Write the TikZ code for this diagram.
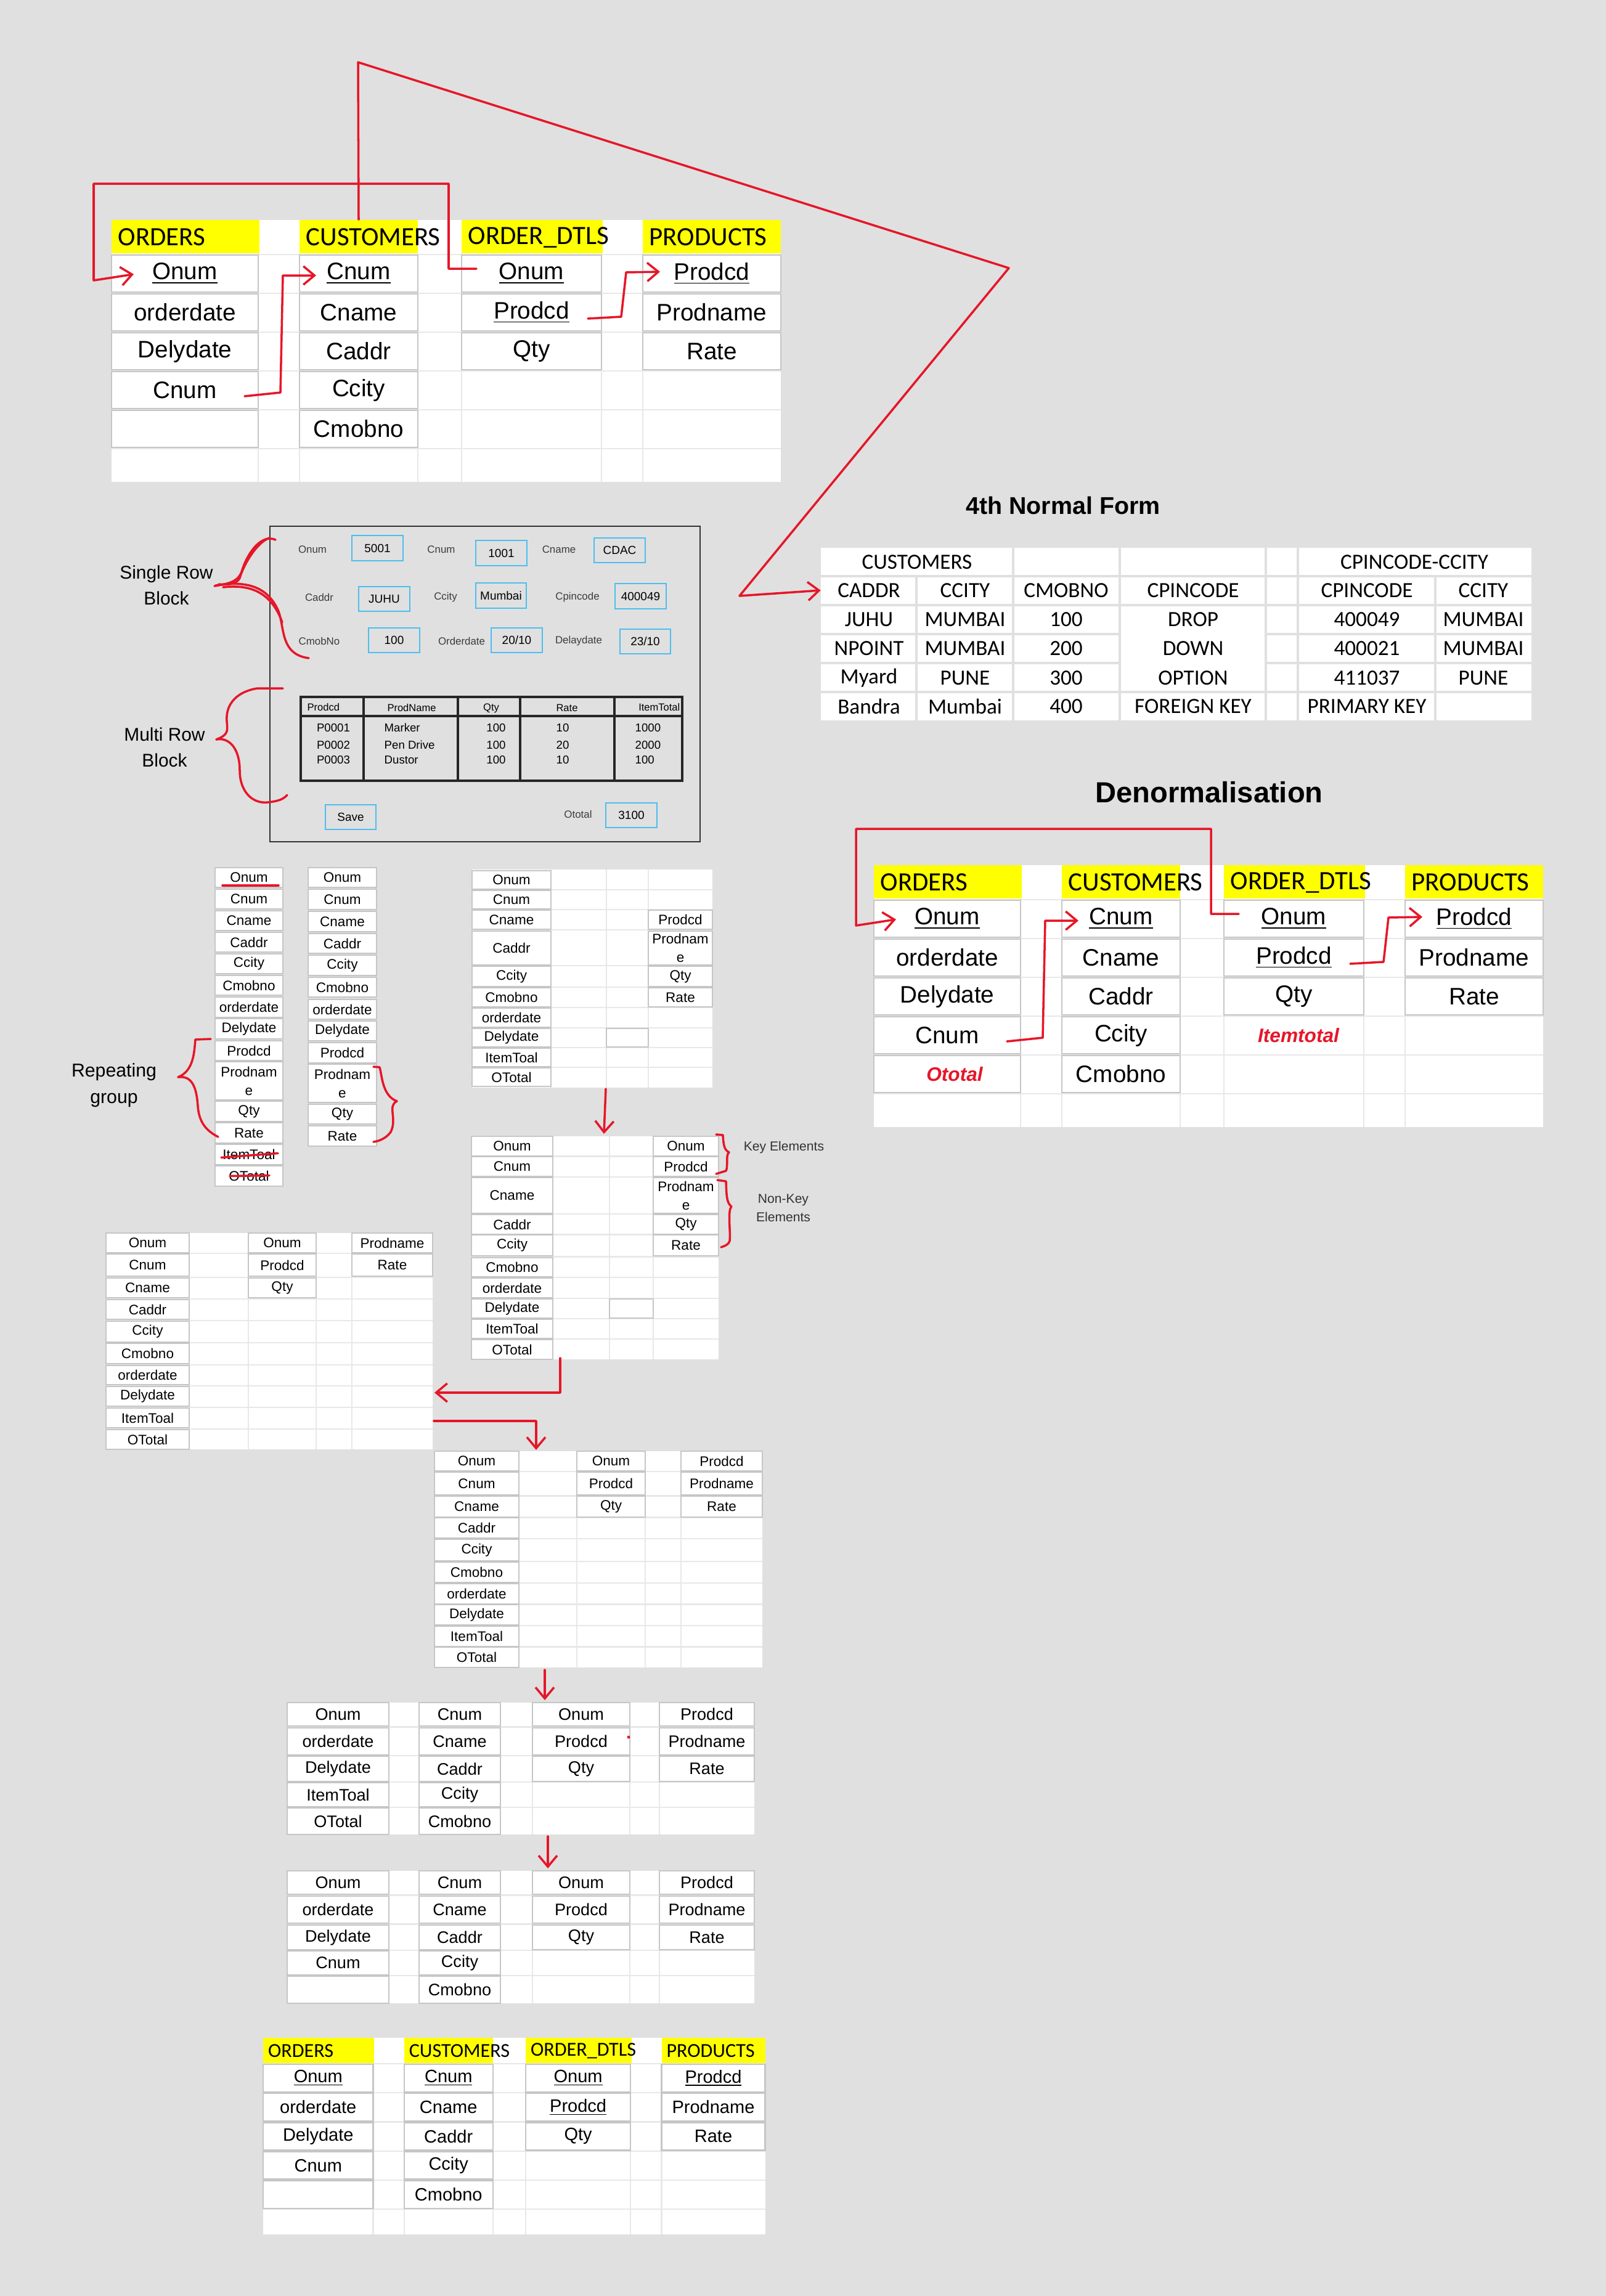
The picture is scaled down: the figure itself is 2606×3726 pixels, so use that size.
\documentclass[tikz,border=0pt]{standalone}
\usepackage{fontspec}
\setmainfont{Liberation Sans}
\newfontfamily\calfont{Carlito}
\usetikzlibrary{arrows.meta,positioning}

\definecolor{pagebg}{RGB}{224,224,224}
\definecolor{boxline}{RGB}{198,198,198}
\definecolor{gridgrey}{RGB}{232,232,232}
\definecolor{penred}{RGB}{230,22,40}
\definecolor{hiyellow}{RGB}{255,255,0}
\definecolor{fieldblue}{RGB}{77,190,238}
\definecolor{formtext}{RGB}{60,60,60}
\definecolor{formline}{RGB}{50,50,50}

% boxed cell: name, x1, y1, x2, y2, text
\newcommand{\bcell}[6]{\node[cellbox, minimum width={((#4)-(#2))*0.01cm}, minimum height={((#5)-(#3))*0.01cm}] (#1) at ({((#2)+(#4))/2},{((#3)+(#5))/2}) {#6};}
% white sheet with light grid: name, x1, y1, x2, y2, x lines, y lines
\newcommand{\sheet}[7]{%
  \node[sheetbox, minimum width={((#4)-(#2))*0.01cm}, minimum height={((#5)-(#3))*0.01cm}] (#1) at ({((#2)+(#4))/2},{((#3)+(#5))/2}) {};
  \foreach \gx in {#6} \draw[gridline] (\gx,#3) -- (\gx,#5);
  \foreach \gy in {#7} \draw[gridline] (#2,\gy) -- (#4,\gy);}
% form field: name, label x, label y, label, box x1, y1, x2, y2, value
\newcommand{\field}[9]{%
  \node[flabel] (#1-lbl) at (#2,#3) {#4};
  \node[fbox, minimum width={((#7)-(#5))*0.01cm}, minimum height={((#8)-(#6))*0.01cm}] (#1) at ({((#5)+(#7))/2},{((#6)+(#8))/2}) {#9};}
% the four tables ORDERS / CUSTOMERS / ORDER_DTLS / PRODUCTS
\newcommand{\schema}[1]{%
  \fill[white] (0,0) rectangle (1086,425);
  \foreach \gx in {238,305,497,568,795,862} \draw[gridline] (\gx,54) -- (\gx,425);
  \foreach \gy in {56,119,182,245,308,371} \draw[gridline] (0,\gy) -- (1086,\gy);
  \foreach \hxa/\hwd/\htxt/\hid in {0/240/ORDERS/o, 305/192/CUSTOMERS/c, 568/229/ORDER\_DTLS/d, 862/224/PRODUCTS/p}{%
    \node[hcell, minimum width={\hwd*0.01cm}] (#1-\hid-head) at ({\hxa+\hwd/2},27) {};
    \node[htext] (#1-\hid-text) at ({\hxa+10},28) {\htxt};}
  \foreach \ctext [count=\rr] in {\underline{Onum},orderdate,Delydate,Cnum,{}}
    \bcell{#1-o\rr}{0}{57+63*(\rr-1)}{238}{117+63*(\rr-1)}{\ctext};
  \foreach \ctext [count=\rr] in {\underline{Cnum},Cname,Caddr,Ccity,Cmobno}
    \bcell{#1-c\rr}{305}{57+63*(\rr-1)}{497}{117+63*(\rr-1)}{\ctext};
  \foreach \ctext [count=\rr] in {\underline{Onum},\underline{Prodcd},Qty}
    \bcell{#1-d\rr}{568}{57+63*(\rr-1)}{795}{117+63*(\rr-1)}{\ctext};
  \foreach \ctext [count=\rr] in {\underline{Prodcd},Prodname,Rate}
    \bcell{#1-p\rr}{862}{57+63*(\rr-1)}{1086}{117+63*(\rr-1)}{\ctext};}
\newcommand{\schemalinks}[1]{%
  \draw[redarrow] ([shift={(24,-8)}]#1-d1.west) -- ++(-45,0) -- ++(0,-138) -- ++(-576,0) -- ++(0,157) -- ([shift={(36,1)}]#1-o1.west);
  \draw[redarrow] ([shift={(-22,10)}]#1-o4.east) -- ++(58,-6) -- ++(4,-190) -- ([shift={(27,3)}]#1-c1.west);
  \draw[redarrow] ([shift={(-22,10)}]#1-d2.east) -- ++(54,-3) -- ++(8,-72) -- ([shift={(28,-3)}]#1-p1.west);}

\begin{document}
\begin{tikzpicture}[x=0.01cm, y=-0.01cm,
  cellbox/.style={draw=boxline, fill=white, line width=0.7pt, inner sep=0pt, outer sep=0pt, align=center, font=\fontsize{11}{13}\selectfont},
  hcell/.style={fill=hiyellow, inner sep=0pt, minimum height=0.54cm},
  htext/.style={anchor=west, inner sep=0pt, font=\calfont\fontsize{12.2}{14}\selectfont},
  sheetbox/.style={fill=white, inner sep=0pt, outer sep=0pt},
  gridline/.style={draw=gridgrey, line width=0.6pt},
  nfline/.style={draw=pagebg, line width=0.9pt},
  nftext/.style={inner sep=0pt, font=\calfont\fontsize{10}{12}\selectfont},
  heading/.style={inner sep=0pt, font=\bfseries\fontsize{11.2}{13}\selectfont},
  redline/.style={draw=penred, line width=1pt, line cap=round, line join=round},
  redarrow/.style={redline, -{Straight Barb[length=1.8mm,width=3mm]}},
  redlabel/.style={text=penred, inner sep=0pt, font=\bfseries\itshape\fontsize{9}{11}\selectfont},
  flabel/.style={text=formtext, inner sep=0pt, font=\fontsize{4.8}{6}\selectfont},
  fbox/.style={draw=fieldblue, line width=0.6pt, inner sep=0pt, font=\fontsize{5.4}{6.5}\selectfont},
  fhead/.style={inner sep=0pt, font=\fontsize{4.7}{6}\selectfont},
  fdata/.style={inner sep=0pt, font=\fontsize{5.3}{6.5}\selectfont},
  tabline/.style={draw=black!85, line width=0.9pt},
  annot/.style={align=center, inner sep=0pt, font=\fontsize{8.5}{12}\selectfont}]
\useasboundingbox (0,0) rectangle (2606,3726);
\fill[pagebg] (0,0) rectangle (2606,3726);

% normalised tables at the top
\begin{scope}[shift={(181,357)}]
  \schema{t}
  \schemalinks{t}
\end{scope}

% 4th normal form
\node[heading] (nftitle) at (1725,820) {4th Normal Form};
\node[sheetbox, minimum width=11.53cm, minimum height=2.8cm] (nf) at (1908.5,1029) {};
\foreach \gy in {935,982,1123} \draw[nfline] (1332,\gy) -- (2485,\gy);
\foreach \gy in {1029,1076} \draw[nfline] (1332,\gy) -- (1817,\gy) (2054,\gy) -- (2485,\gy);
\foreach \gx in {1644,1817,2054,2106} \draw[nfline] (\gx,889) -- (\gx,1169);
\foreach \gx in {1487,2329} \draw[nfline] (\gx,935) -- (\gx,1169);
\node[nftext] (nf-cust) at (1488,912) {CUSTOMERS};
\node[nftext] (nf-pin) at (2295,912) {CPINCODE-CCITY};
\foreach \ctext/\cx [count=\rr] in {CADDR/1410, CCITY/1566, CMOBNO/1730, CPINCODE/1936, CPINCODE/2218, CCITY/2407}
  \node[nftext] (nf-b\rr) at (\cx,958) {\ctext};
\foreach \ctext/\cx [count=\rr] in {JUHU/1410, MUMBAI/1566, 100/1730, DROP/1936, 400049/2218, MUMBAI/2407}
  \node[nftext] (nf-c\rr) at (\cx,1005) {\ctext};
\foreach \ctext/\cx [count=\rr] in {NPOINT/1410, MUMBAI/1566, 200/1730, DOWN/1936, 400021/2218, MUMBAI/2407}
  \node[nftext] (nf-d\rr) at (\cx,1052) {\ctext};
\foreach \ctext/\cx [count=\rr] in {Myard/1410, PUNE/1566, 300/1730, OPTION/1936, 411037/2218, PUNE/2407}
  \node[nftext] (nf-e\rr) at (\cx,1100) {\ctext};
\foreach \ctext/\cx [count=\rr] in {Bandra/1410, Mumbai/1566, 400/1730, FOREIGN KEY/1936, PRIMARY KEY/2218}
  \node[nftext] (nf-f\rr) at (\cx,1146) {\ctext};

% link from CUSTOMERS to the 4NF table
\coordinate (kinkA) at (581,101);
\coordinate (kinkB) at (1637,435);
\coordinate (kinkC) at (1200,967);
\draw[redarrow] (t-c-head.north) -- (kinkA) -- (kinkB) -- (kinkC) -- (nf-b1 -| nf.west);

% denormalisation
\node[heading, font=\bfseries\fontsize{13.4}{16}\selectfont] (dntitle) at (1962,1286) {Denormalisation};
\begin{scope}[shift={(1418,1404)}]
  \schema{d}
  \node[redlabel] (d-ototal) at ([shift={(12,0)}]d-o5) {Ototal};
  \node[redlabel] (d-itemtotal) at (689,276) {Itemtotal};
  \schemalinks{d}
\end{scope}

% form
\draw[formline, line width=0.7pt] (438,854) rectangle (1136,1366);
\field{fonum}{507}{892}{Onum}{571}{869}{654}{910}{5001}
\field{fcnum}{716}{892}{Cnum}{772}{877}{855}{918}{1001}
\field{fcname}{907}{892}{Cname}{964}{873}{1047}{913}{CDAC}
\field{fcaddr}{518}{969}{Caddr}{582}{952}{665}{992}{JUHU}
\field{fccity}{723}{969}{Ccity}{772}{946}{854}{987}{Mumbai}
\field{fcpin}{937}{969}{Cpincode}{998}{947}{1081}{988}{400049}
\field{fcmob}{518}{1040}{CmobNo}{598}{1019}{681}{1059}{100}
\field{fodate}{749}{1040}{Orderdate}{797}{1019}{880}{1059}{20/10}
\field{fddate}{939}{1040}{Delaydate}{1006}{1021}{1088}{1061}{23/10}
\field{fototal}{938}{1321}{Ototal}{983}{1303}{1066}{1343}{3100}
\node[fbox, minimum width=0.82cm, minimum height=0.4cm] (fsave) at (569,1326) {Save};
\draw[tabline] (488,1131) rectangle (1107,1267);
\draw[tabline] (488,1162) -- (1107,1162);
\foreach \gx in {590,743,844,997} \draw[tabline] (\gx,1131) -- (\gx,1267);
\node[fhead, anchor=west] (th-prod) at (498,1148) {Prodcd};
\node[fhead] (th-name) at (668,1149) {ProdName};
\node[fhead] (th-qty) at (797,1149) {Qty};
\node[fhead] (th-rate) at (920,1149) {Rate};
\node[fhead, anchor=east] (th-tot) at (1104,1148) {ItemTotal};
\foreach \qa/\qb/\qc/\qd/\qe/\yy [count=\rr] in {P0001/Marker/100/10/1000/1181, P0002/Pen Drive/100/20/2000/1209, P0003/Dustor/100/10/100/1233}{%
  \node[fdata] (tr\rr-prod) at (541,\yy) {\qa};
  \node[fdata, anchor=west] (tr\rr-name) at (623,\yy) {\qb};
  \node[fdata] (tr\rr-qty) at (805,\yy) {\qc};
  \node[fdata] (tr\rr-rate) at (913,\yy) {\qd};
  \node[fdata, anchor=west] (tr\rr-tot) at (1030,\yy) {\qe};}
\node[annot] (singlerow) at (270,950) {Single Row\\Block};
\node[annot] (multirow) at (267,1213) {Multi Row\\Block};
\draw[redline] (447,876) .. controls (425,866) and (402,895) .. (392,928) .. controls (386,944) and (372,947) .. (348,951);
\draw[redline] (437,873) .. controls (418,880) and (397,912) .. (389,938) .. controls (385,947) and (372,950) .. (355,948);
\draw[redline] (350,950) .. controls (395,943) and (433,948) .. (452,992) .. controls (462,1020) and (455,1062) .. (501,1068);
\draw[redline] (362,953) .. controls (405,948) and (440,960) .. (458,1010);
\draw[redline] (459,1117) -- (418,1117) .. controls (385,1122) and (366,1142) .. (368,1170) .. controls (369,1185) and (372,1192) .. (351,1200);
\draw[redline] (351,1200) .. controls (372,1196) and (389,1215) .. (389,1250) .. controls (389,1285) and (410,1305) .. (435,1302) .. controls (452,1300) and (460,1297) .. (466,1290);

% unnormalised columns and the steps after them
\begin{scope}[cellbox/.append style={line width=0.6pt, font=\fontsize{6.4}{8.5}\selectfont}]
  \foreach \ctext/\ya/\yb [count=\rr] in {Onum/1408/1440, Cnum/1443/1475, Cname/1478/1510, Caddr/1513/1545, Ccity/1548/1580, Cmobno/1583/1615, orderdate/1618/1651, Delydate/1653/1686, Prodcd/1689/1721, Prodnam\\e/1723/1785, Qty/1787/1820, Rate/1822/1855, ItemToal/1857/1890, OTotal/1892/1925}
    \bcell{a\rr}{349}{\ya}{459}{\yb}{\ctext};
  \foreach \ctext/\ya/\yb [count=\rr] in {Onum/1408/1440, Cnum/1443/1476, Cname/1479/1512, Caddr/1515/1547, Ccity/1550/1583, Cmobno/1586/1618, orderdate/1622/1654, Delydate/1657/1689, Prodcd/1692/1725, Prodnam\\e/1727/1789, Qty/1792/1824, Rate/1827/1860}
    \bcell{b\rr}{500}{\ya}{611}{\yb}{\ctext};

  \sheet{tabC}{766}{1411}{1156}{1765}{894,984,1052}{1444,1476,1509,1567,1602,1635,1668,1700,1732}
  \foreach \ctext/\ya/\yb [count=\rr] in {Onum/1413/1443, Cnum/1445/1475, Cname/1477/1508, Caddr/1511/1566, Ccity/1568/1601, Cmobno/1603/1634, orderdate/1636/1667, Delydate/1669/1699, ItemToal/1701/1731, OTotal/1733/1763}
    \bcell{c1-\rr}{766}{\ya}{894}{\yb}{\ctext};
  \foreach \ctext/\ya/\yb [count=\rr] in {Prodcd/1477/1508, Prodnam\\e/1511/1566, Qty/1568/1601, Rate/1603/1634}
    \bcell{c4-\rr}{1052}{\ya}{1156}{\yb}{\ctext};
  \bcell{c3-box}{984}{1669}{1052}{1699}{}

  \sheet{tabD}{765}{1844}{1166}{2206}{897,989,1060}{1876.5,1910,1970,2003.5,2039.5,2073,2107,2140,2173}
  \foreach \ctext/\ya/\yb [count=\rr] in {Onum/1844/1876, Cnum/1877/1909, Cname/1911/1969, Caddr/1971/2003, Ccity/2004/2038, Cmobno/2041/2072, orderdate/2074/2106, Delydate/2108/2139, ItemToal/2141/2172, OTotal/2174/2206}
    \bcell{d1-\rr}{765}{\ya}{897}{\yb}{\ctext};
  \foreach \ctext/\ya/\yb [count=\rr] in {Onum/1844/1876, Prodcd/1877/1909, Prodnam\\e/1911/1969, Qty/1971/2003, Rate/2004/2038}
    \bcell{d4-\rr}{1060}{\ya}{1166}{\yb}{\ctext};
  \bcell{d3-box}{989}{2108}{1060}{2139}{}

  \sheet{tabE}{172}{2001}{702}{2352}{307,403,513,571}{2034,2073,2108,2143,2179,2215,2249,2284,2319}
  \foreach \ctext/\ya/\yb [count=\rr] in {Onum/2001/2033, Cnum/2035/2071, Cname/2074/2106, Caddr/2109/2141, Ccity/2144/2178, Cmobno/2180/2213, orderdate/2216/2247, Delydate/2250/2282, ItemToal/2285/2317, OTotal/2320/2352}
    \bcell{e1-\rr}{172}{\ya}{307}{\yb}{\ctext};
  \foreach \ctext/\ya/\yb [count=\rr] in {Onum/2001/2033, Prodcd/2035/2071, Qty/2074/2106}
    \bcell{e3-\rr}{403}{\ya}{513}{\yb}{\ctext};
  \foreach \ctext/\ya/\yb [count=\rr] in {Prodname/2001/2033, Rate/2035/2071}
    \bcell{e5-\rr}{571}{\ya}{702}{\yb}{\ctext};

  \sheet{tabF}{705}{2355}{1237}{2706}{842,936,1047,1105}{2388,2427.5,2462.5,2497,2534,2569,2603.5,2638,2672.5}
  \foreach \ctext/\ya/\yb [count=\rr] in {Onum/2355/2387, Cnum/2389/2426, Cname/2428/2462, Caddr/2463/2496, Ccity/2498/2533, Cmobno/2535/2568, orderdate/2570/2603, Delydate/2604/2637, ItemToal/2639/2672, OTotal/2673/2706}
    \bcell{f1-\rr}{705}{\ya}{842}{\yb}{\ctext};
  \foreach \ctext/\ya/\yb [count=\rr] in {Onum/2355/2387, Prodcd/2389/2426, Qty/2428/2462}
    \bcell{f3-\rr}{936}{\ya}{1047}{\yb}{\ctext};
  \foreach \ctext/\ya/\yb [count=\rr] in {Prodcd/2355/2387, Prodname/2389/2426, Rate/2428/2462}
    \bcell{f5-\rr}{1105}{\ya}{1237}{\yb}{\ctext};
\end{scope}

\begin{scope}[cellbox/.append style={line width=0.6pt, font=\fontsize{7.7}{9}\selectfont}]
  \sheet{tabG}{466}{2763}{1224}{2977}{631,680,812,864,1022,1070}{2802.5,2849,2892,2933}
  \foreach \ctext/\ya/\yb [count=\rr] in {Onum/2763/2801, orderdate/2804/2848, Delydate/2850/2891, ItemToal/2893/2932, OTotal/2934/2977}
    \bcell{g1-\rr}{466}{\ya}{631}{\yb}{\ctext};
  \foreach \ctext/\ya/\yb [count=\rr] in {Cnum/2763/2801, Cname/2804/2848, Caddr/2850/2891, Ccity/2893/2932, Cmobno/2934/2977}
    \bcell{g3-\rr}{680}{\ya}{812}{\yb}{\ctext};
  \foreach \ctext/\ya/\yb [count=\rr] in {Onum/2763/2801, Prodcd/2804/2848, Qty/2850/2891}
    \bcell{g5-\rr}{864}{\ya}{1022}{\yb}{\ctext};
  \foreach \ctext/\ya/\yb [count=\rr] in {Prodcd/2763/2801, Prodname/2804/2848, Rate/2850/2891}
    \bcell{g7-\rr}{1070}{\ya}{1224}{\yb}{\ctext};

  \sheet{tabH}{466}{3036}{1224}{3251}{631,680,812,864,1022,1070}{3075.5,3122.5,3165,3206}
  \foreach \ctext/\ya/\yb [count=\rr] in {Onum/3036/3074, orderdate/3077/3121, Delydate/3124/3164, Cnum/3166/3205, {}/3207/3251}
    \bcell{h1-\rr}{466}{\ya}{631}{\yb}{\ctext};
  \foreach \ctext/\ya/\yb [count=\rr] in {Cnum/3036/3074, Cname/3077/3121, Caddr/3124/3164, Ccity/3166/3205, Cmobno/3207/3251}
    \bcell{h3-\rr}{680}{\ya}{812}{\yb}{\ctext};
  \foreach \ctext/\ya/\yb [count=\rr] in {Onum/3036/3074, Prodcd/3077/3121, Qty/3124/3164}
    \bcell{h5-\rr}{864}{\ya}{1022}{\yb}{\ctext};
  \foreach \ctext/\ya/\yb [count=\rr] in {Prodcd/3036/3074, Prodname/3077/3121, Rate/3124/3164}
    \bcell{h7-\rr}{1070}{\ya}{1224}{\yb}{\ctext};
\end{scope}

% final tables
\begin{scope}[shift={(427,3307)}, scale=0.75, transform shape]
  \schema{b}
\end{scope}

% notes and red pen marks in the middle
\node[annot, font=\fontsize{8.6}{12.2}\selectfont] (repgroup) at (185,1761) {Repeating\\group};
\node[annot, font=\fontsize{6}{8.5}\selectfont, text=formline] (keyel) at (1272,1862) {Key Elements};
\node[annot, font=\fontsize{6}{8.5}\selectfont, text=formline] (nonkey) at (1271,1960) {Non-Key\\Elements};
\draw[redline] ([shift={(-43,13)}]a1.center) -- ++(91,0);
\draw[redline] ([shift={(-45,5)}]a13.center) -- ([shift={(47,-2)}]a13.center);
\draw[redline] ([shift={(-31,0)}]a14.center) -- ([shift={(33,-1)}]a14.center);
\draw[redline] (342,1686) -- (317,1687) .. controls (315,1712) and (313,1738) .. (289,1748);
\draw[redline] (289,1748) .. controls (312,1745) and (319,1765) .. (321,1795) .. controls (323,1822) and (335,1835) .. (354,1845);
\draw[redline] (606,1731) -- (616,1732) .. controls (620,1745) and (620,1778) .. (644,1787);
\draw[redline] (644,1787) .. controls (628,1795) and (645,1815) .. (634,1837) .. controls (627,1847) and (615,1852) .. (606,1853);
\draw[redline] (1162,1841) -- (1173,1842) .. controls (1174,1858) and (1175,1866) .. (1183,1870) .. controls (1177,1874) and (1182,1893) .. (1178,1900) -- (1162,1905);
\draw[redline] (1164,1915) -- (1178,1917) .. controls (1179,1935) and (1178,1952) .. (1187,1958) .. controls (1180,1965) and (1186,2000) .. (1184,2014) .. controls (1182,2020) and (1176,2022) .. (1170,2024);
\fill[penred] (1020,2819) circle[radius=2.5];

% steps
\draw[redarrow] ([shift={(217,2)}]tabC.south west) -- ([shift={(215,-4)}]tabD.north west);
\draw[redarrow] ([shift={(144,-2)}]tabD.south west) |- ([shift={(3,-92)}]tabE.south east);
\draw[redarrow] ([shift={(2,-46)}]tabE.south east) -| ([shift={(165,-2)}]tabF.north west);
\draw[redarrow] ([shift={(179,4)}]tabF.south west) -- ([shift={(418,-4)}]tabG.north west);
\draw[redarrow] ([shift={(423,3)}]tabG.south west) -- ([shift={(423,-4)}]tabH.north west);
\end{tikzpicture}
\end{document}
